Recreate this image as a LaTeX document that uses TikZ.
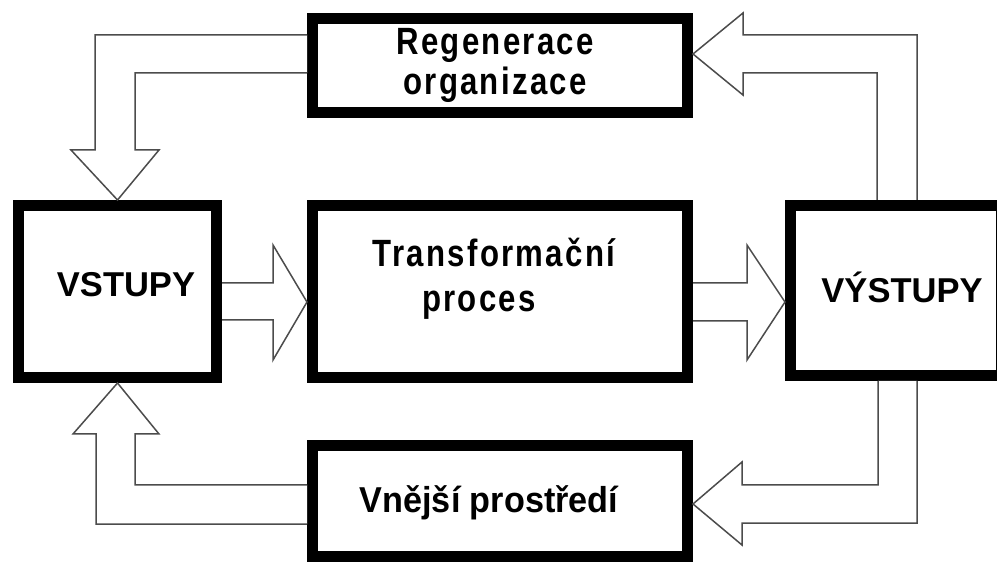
\documentclass[tikz,border=0pt]{standalone}
\usepackage{fontspec}
\setmainfont{Liberation Sans}
% condensed, letter-spaced bold face for the middle-column boxes
\newfontfamily\spacedfont{Liberation Sans}[FakeStretch=0.82,LetterSpace=6]
\newfontfamily\plainwide{Liberation Sans}[FakeStretch=0.95]
\begin{document}
\begin{tikzpicture}[x=1pt,y=-1pt,
  box/.style={draw=black, line width=11pt, fill=white, inner sep=0pt},
  blk/.style={draw=black!70, line width=1.5pt, line join=miter, fill=white},
  spaced/.style={anchor=base, inner sep=0pt, font=\spacedfont\bfseries\fontsize{38}{38}\selectfont},
  caps/.style={anchor=base, inner sep=0pt, font=\bfseries\fontsize{34.5}{34.5}\selectfont},
  envtext/.style={anchor=base, inner sep=0pt, font=\plainwide\bfseries\fontsize{36}{36}\selectfont}]

% page
\fill[white] (0,0) rectangle (997,585);
\useasboundingbox (0,0) rectangle (997,585);

% boxes
\node[box, minimum width=375pt, minimum height=94pt]  (reg) at (500,65.5)  {};
\node[box, minimum width=198pt, minimum height=172pt] (vst) at (117.5,291.5) {};
\node[box, minimum width=375pt, minimum height=172pt] (tra) at (500,291.5) {};
\node[box, minimum width=211pt, minimum height=170pt] (vys) at (896,290.5) {};
\node[box, minimum width=375pt, minimum height=111pt] (vne) at (500,501)   {};

% box texts
\node[spaced] (reg-a) at (495,55)  {Regenerace};
\node[spaced] (reg-b) at (495,95)  {organizace};
\node[spaced] (tra-a) at (494,267) {Transformační};
\node[spaced] (tra-b) at (479,312) {proces};
\node[caps]   (vst-t) at (126,297) {VSTUPY};
\node[caps]   (vys-t) at (902,303) {VÝSTUPY};
\node[envtext] (vne-t) at (489,512) {Vnější prostředí};

% hollow block arrows
% regeneration -> inputs
\draw[blk] (reg.west |- 0,35) -- (95,35) -- (95,150) -- (71,150) -- (vst.north)
  -- (159,150) -- (135,150) -- (135,73) -- (reg.west |- 0,73);
% outputs -> regeneration
\draw[blk] (vys.north -| 917,0) -- (917,35) -- (743,35) -- (743,13) -- (reg.east |- 0,54)
  -- (743,95) -- (743,73) -- (877,73) -- (vys.north -| 877,0);
% inputs -> transformation
\draw[blk] (vst.east |- 0,283) -- (273,283) -- (273,245) -- (tra.west |- 0,302)
  -- (273,360) -- (273,320) -- (vst.east |- 0,320);
% transformation -> outputs
\draw[blk] (tra.east |- 0,283) -- (747,283) -- (747,245) -- (vys.west |- 0,302)
  -- (747,360) -- (747,321) -- (tra.east |- 0,321);
% outputs -> environment
\draw[blk] (vys.south -| 878,0) -- (878,485) -- (742,485) -- (742,462) -- (vne.east |- 0,504)
  -- (742,545) -- (742,523) -- (917,523) -- (vys.south -| 917,0);
% environment -> inputs
\draw[blk] (vne.west |- 0,485) -- (135,485) -- (135,434) -- (159,434) -- (vst.south)
  -- (73,434) -- (96,434) -- (96,524) -- (vne.west |- 0,524);
\end{tikzpicture}
\end{document}
